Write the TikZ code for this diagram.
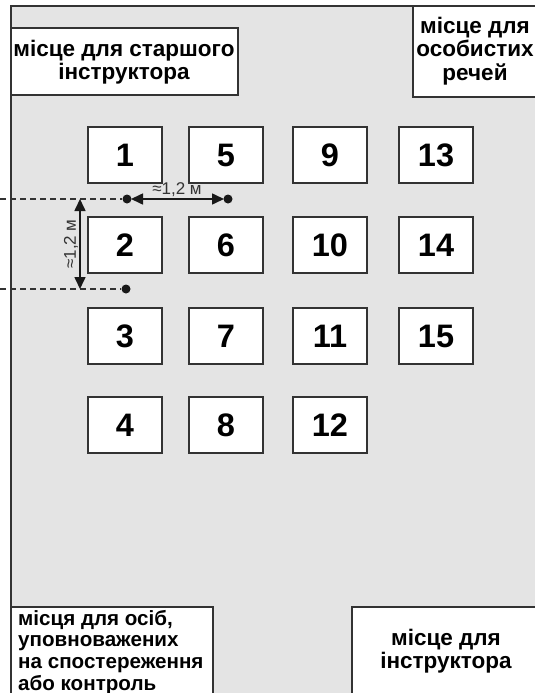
\documentclass[tikz,border=0pt]{standalone}
\usepackage{fontspec}
\setmainfont{Liberation Sans}
\usetikzlibrary{arrows.meta}
\definecolor{bgGray}{HTML}{E4E4E4}
\definecolor{lineGray}{HTML}{333333}
\tikzset{
  seat/.style={draw=lineGray, line width=1.4pt, fill=white, minimum width=74pt, minimum height=56pt, inner sep=0pt, font=\bfseries\fontsize{32.5}{34}\selectfont},
  place/.style={draw=lineGray, line width=1.4pt, fill=white},
  lbl/.style={font=\bfseries\fontsize{22.5}{23.5}\selectfont, align=center, inner sep=0pt},
  lblsmall/.style={font=\bfseries\fontsize{20.6}{21.6}\selectfont, align=left, inner sep=0pt},
  dimdot/.style={circle, fill=black!90, inner sep=0pt, minimum size=9pt},
  dimline/.style={draw=black!80, line width=1.6pt, dash pattern=on 6pt off 4pt},
  dimarrow/.style={draw=black!90, line width=1.6pt, {Triangle[length=12pt,width=11pt]}-{Triangle[length=12pt,width=11pt]}},
  dimlbl/.style={font=\fontsize{17}{18}\selectfont, inner sep=0pt, text=black!80}
}
\begin{document}
\begin{tikzpicture}[x=1pt,y=-1pt]
\useasboundingbox (0,0) rectangle (535,693);
\begin{scope}
\clip (0,0) rectangle (535,693);
% room
\draw[lineGray, line width=1.4pt, fill=bgGray] (11,6) rectangle (560,720);
% places
\draw[place] (11,28) rectangle (238,95);
\node[lbl] (senior) at (124,62) {місце для старшого\\інструктора};
\draw[place] (413,6) rectangle (560,97);
\node[lbl] (things) at (475,51) {місце для\\особистих\\речей};
\draw[place] (11,607) rectangle (213,720);
\node[lblsmall, anchor=base west] (observers) at (18,690) {місця для осіб,\\уповноважених\\на спостереження\\або контроль};
\draw[place] (352,607) rectangle (560,720);
\node[lbl] (instructor) at (446,651) {місце для\\інструктора};
% seats
\node[seat] (s1) at (125,155) {1};
\node[seat] (s2) at (125,245) {2};
\node[seat] (s3) at (125,336) {3};
\node[seat] (s4) at (125,425) {4};
\node[seat] (s5) at (226,155) {5};
\node[seat] (s6) at (226,245) {6};
\node[seat] (s7) at (226,336) {7};
\node[seat] (s8) at (226,425) {8};
\node[seat] (s9) at (330,155) {9};
\node[seat] (s10) at (330,245) {10};
\node[seat] (s11) at (330,336) {11};
\node[seat] (s12) at (330,425) {12};
\node[seat] (s13) at (436,155) {13};
\node[seat] (s14) at (436,245) {14};
\node[seat] (s15) at (436,336) {15};
% dimensions
\coordinate (l1) at (0,199);
\coordinate (l2) at (0,289);
\node[dimdot] (d1) at (127,199) {};
\node[dimdot] (d2) at (228,199) {};
\node[dimdot] (d3) at (126,289) {};
\draw[dimline] (l1) -- (d1);
\draw[dimline] (l2) -- (d3);
\coordinate (h1) at (131,199);
\coordinate (h2) at (224,199);
\draw[dimarrow] (h1) -- (h2);
\node[dimlbl] (hl) at (177,190) {≈1,2 м};
\coordinate (v1) at (80,199);
\coordinate (v2) at (80,289);
\draw[dimarrow] (v1) -- (v2);
\node[dimlbl, rotate=90] (vl) at (71,244) {≈1,2 м};
\end{scope}
\end{tikzpicture}
\end{document}
